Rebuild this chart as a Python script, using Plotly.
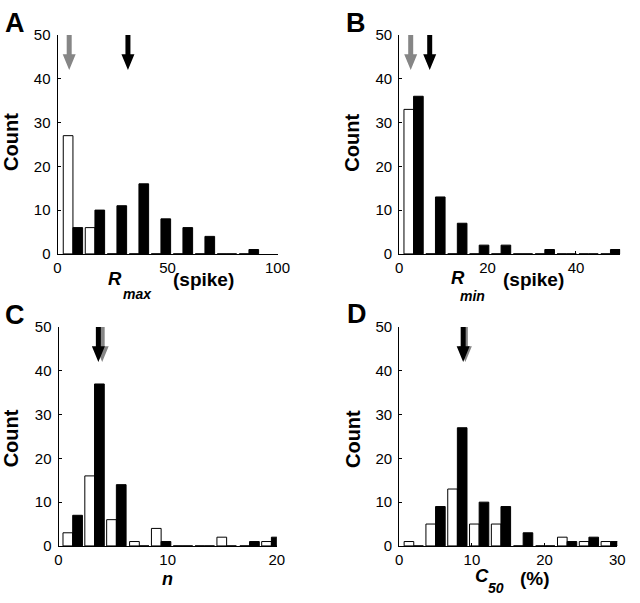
import plotly.graph_objects as go

W, H = 640, 603

# ---------------- data ----------------
# Panel A: R_max (spike)
a_centers = [7, 17, 27, 37, 47, 57, 67, 77, 87]
a_white = [27, 6, 0, 0, 0, 0, 0, 0, 0]
a_black = [6, 10, 11, 16, 8, 6, 4, 0, 1]
a_arrows = {"gray": 5.3, "black": 32.0}

# Panel B: R_min (spike)
b_centers = [3.25, 8.2, 13.15, 18.1, 23.05, 28.0, 32.95, 37.9, 42.85, 47.8]
b_white = [33, 0, 0, 0, 0, 0, 0, 0, 0, 0]
b_black = [36, 13, 7, 2, 2, 0, 1, 0, 0, 1]
b_arrows = {"gray": 2.6, "black": 6.9}

# Panel C: n
c_centers = [1.3, 3.3, 5.3, 7.4, 9.4, 11.4, 13.4, 15.4, 17.5, 19.5]
c_white = [3, 16, 6, 1, 4, 0, 0, 2, 0, 1]
c_black = [7, 37, 14, 0, 1, 0, 0, 0, 1, 2]
c_arrows = {"gray": 4.0, "black": 3.65}

# Panel D: C50 (%)
d_centers = [2.0, 5.0, 8.0, 11.0, 14.0, 17.05, 20.1, 23.1, 26.1, 29.1]
d_white = [1, 5, 13, 5, 5, 0, 0, 2, 1, 1]
d_black = [0, 9, 27, 10, 9, 3, 0, 1, 2, 1]
d_arrows = {"gray": 9.1, "black": 8.8}

x_ranges = {"A": [0, 100], "B": [0, 50], "C": [0, 20], "D": [0, 30]}
x_ticks = {"A": [0, 50, 100], "B": [0, 20, 40], "C": [0, 10, 20], "D": [0, 10, 20, 30]}
y_ticks = [0, 10, 20, 30, 40, 50]
y_range = [0, 50]

# ---------------- layout geometry (pixels) ----------------
boxes = {  # x0, x1, ytop, ybottom in pixels
    "A": (55, 281, 26.7, 252),
    "B": (406, 633, 26.7, 252),
    "C": (56, 280.3, 327.3, 552.5),
    "D": (406, 630, 327.3, 552.5),
}

FONT = "Liberation Sans, Arial, Helvetica, sans-serif"
GRAY = "#868686"

fig = go.Figure()

panels = [
    ("A", a_centers, a_white, a_black, a_arrows, "x", "y"),
    ("B", b_centers, b_white, b_black, b_arrows, "x2", "y2"),
    ("C", c_centers, c_white, c_black, c_arrows, "x3", "y3"),
    ("D", d_centers, d_white, d_black, d_arrows, "x4", "y4"),
]

shapes = []
for name, centers, white, black, arrows, xa, ya in panels:
    spacing = (centers[-1] - centers[0]) / (len(centers) - 1)
    w = 0.44 * spacing
    fig.add_trace(go.Bar(x=centers, y=white, width=w, offset=-w,
                         marker=dict(color="white", line=dict(color="black", width=1)),
                         xaxis=xa, yaxis=ya, showlegend=False))
    fig.add_trace(go.Bar(x=centers, y=black, width=w, offset=0,
                         marker=dict(color="black", line=dict(color="black", width=1)),
                         xaxis=xa, yaxis=ya, showlegend=False))
    # arrows (gray first, black on top)
    tip, base, top = 42.0, 45.6, 50.0
    for key, col in (("gray", GRAY), ("black", "black")):
        path = (f"M-2.5,{top} L2.5,{top} L2.5,{base} L6.5,{base} L0,{tip} "
                f"L-6.5,{base} L-2.5,{base} Z")
        shapes.append(dict(type="path", xref=xa, yref=ya, xsizemode="pixel",
                           xanchor=arrows[key], path=path, fillcolor=col,
                           line=dict(width=0), layer="above"))

fig.update_layout(barmode="overlay", shapes=shapes)

axis_common = dict(showline=True, linecolor="black", linewidth=1, ticks="inside",
                   ticklen=3, tickcolor="black", showgrid=False, zeroline=False,
                   tickfont=dict(family=FONT, size=15, color="black"), fixedrange=True)

for i, (name, *_rest) in enumerate(panels):
    x0, x1, yt, yb = boxes[name]
    suf = "" if i == 0 else str(i + 1)
    fig.layout["xaxis" + suf] = dict(axis_common, domain=[x0 / W, x1 / W],
                                     range=x_ranges[name], tickvals=x_ticks[name],
                                     ticklabelstandoff=0, anchor="y" + suf)
    fig.layout["yaxis" + suf] = dict(axis_common, domain=[1 - yb / H, 1 - yt / H],
                                     range=y_range, tickvals=y_ticks,
                                     ticklabelstandoff=3, anchor="x" + suf)

ann = []
def add_text(txt, px, py, size, angle=0):
    ann.append(dict(text=txt, x=px / W, y=1 - py / H, xref="paper", yref="paper",
                    xanchor="center", yanchor="middle", showarrow=False,
                    textangle=angle, font=dict(family=FONT, size=size, color="black")))

# panel letters
add_text("<b>A</b>", 11.5, 14.5, 27)
add_text("<b>B</b>", 362, 14.5, 27)
add_text("<b>C</b>", 11, 315, 27)
add_text("<b>D</b>", 363, 314, 27)
# y titles
add_text("<b>Count</b>", 7, 137, 20, -90)
add_text("<b>Count</b>", 358, 137, 20, -90)
add_text("<b>Count</b>", 7, 442, 20, -90)
add_text("<b>Count</b>", 358, 442, 20, -90)
# x titles (symbol, subscript and unit placed separately, as in the original)
add_text("<b><i>R</i></b>", 114.5, 277, 18.5)
add_text("<b><i>max</i></b>", 137, 293, 14)
add_text("<b>(spike)</b>", 205, 278, 19)
add_text("<b><i>R</i></b>", 466.5, 276, 18.5)
add_text("<b><i>min</i></b>", 481, 295, 14)
add_text("<b>(spike)</b>", 544, 278, 19)
add_text("<b><i>n</i></b>", 168, 586.5, 18)
add_text("<b><i>C</i></b>", 491, 583, 18.5)
add_text("<b><i>50</i></b>", 505, 596, 14)
add_text("<b>(%)</b>", 545, 586.5, 19)

fig.update_layout(annotations=ann, width=W, height=H,
                  margin=dict(l=0, r=0, t=0, b=0),
                  paper_bgcolor="white", plot_bgcolor="white",
                  font=dict(family=FONT, color="black"))

fig.write_html("out.html", config={"displayModeBar": False},
               post_script="document.body.style.margin='0';document.body.style.padding='0';")
